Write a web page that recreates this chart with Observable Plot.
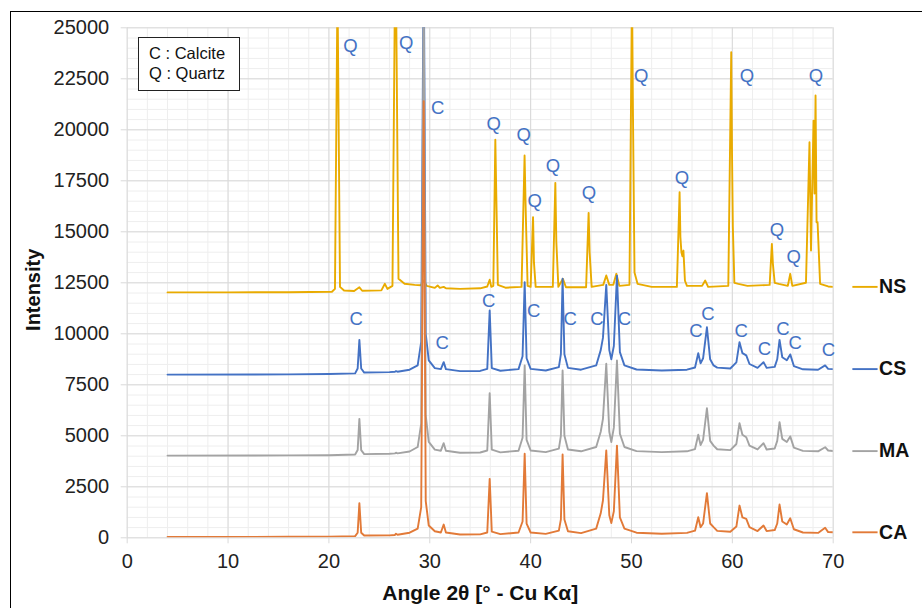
<!DOCTYPE html>
<html>
<head>
<meta charset="utf-8">
<script src="https://cdn.jsdelivr.net/npm/d3@7"></script>
<script src="https://cdn.jsdelivr.net/npm/@observablehq/plot@0.6"></script>
<style>
  html, body { margin: 0; padding: 0; background: #fff; overflow: hidden; }
  #wrap { position: relative; width: 922px; height: 608px; overflow: hidden; font-family: "Liberation Sans", Arial, sans-serif; }
  #frame { position: absolute; left: 10px; top: 11px; width: 1000px; height: 700px; border: 1px solid #000; box-sizing: border-box; pointer-events: none; }
  #key { position: absolute; left: 138px; top: 37px; width: 102px; height: 54px; box-sizing: border-box; border: 1px solid #222; background: #fff; padding: 5px 0 0 10px; font-size: 16.5px; line-height: 20px; color: #111; }
  svg { position: absolute; left: 0; top: 0; }
</style>
</head>
<body>
<div id="wrap"><div id="frame"></div></div>
<script>
// ---- data (angle 2θ in degrees, displayed intensity incl. stacking offset) ----
const seriesNames = ["NS", "CS", "MA", "CA"];
const keyLines = ["C : Calcite", "Q : Quartz"];
const angleTicks = [0, 10, 20, 30, 40, 50, 60, 70];
const intensityTicks = [0, 2500, 5000, 7500, 10000, 12500, 15000, 17500, 20000, 22500, 25000];

const NS = [[4,12030],[10,12030],[16,12040],[20.3,12060],[20.6,12200],[20.85,27000],[21.1,12300],[21.5,12120],[22.5,12100],[23.02,12280],[23.3,12110],[25.2,12130],[25.55,12450],[25.8,12200],[26.3,12350],[26.6,30000],[26.9,12700],[27.5,12450],[28.5,12400],[29.1,12380],[29.4,12610],[29.7,12350],[30.5,12250],[30.78,12370],[31.0,12250],[31.38,12300],[31.6,12230],[33,12200],[35,12230],[35.7,12320],[35.94,12650],[36.1,12300],[36.3,12350],[36.5,19510],[36.6,16700],[36.75,12400],[37.5,12260],[39.1,12300],[39.4,18740],[39.52,15880],[39.7,12350],[40.0,12300],[40.24,15720],[40.33,13500],[40.5,12300],[42.2,12300],[42.45,17400],[42.55,14500],[42.75,12300],[43.2,12700],[43.5,12280],[45.5,12280],[45.75,15930],[45.85,14000],[46.05,12300],[47.2,12400],[47.5,12860],[47.8,12400],[48.2,12400],[48.5,12940],[48.8,12350],[49.8,12400],[50.05,27000],[50.15,20620],[50.3,13000],[50.6,12450],[52,12300],[54.5,12300],[54.77,16940],[54.85,14740],[54.95,14000],[55.05,13800],[55.15,14080],[55.3,12600],[55.5,12350],[57.0,12350],[57.31,12610],[57.6,12300],[59.6,12350],[59.89,23800],[59.97,18740],[60.05,15230],[60.2,12500],[60.6,12450],[61.5,12350],[63.7,12400],[63.92,14410],[64.02,13430],[64.2,12500],[64.6,12450],[65.5,12350],[65.74,12940],[65.95,12350],[67.3,12500],[67.65,19390],[67.8,14080],[68.05,20450],[68.15,16880],[68.25,21680],[68.35,15470],[68.45,15470],[68.7,12450],[69.5,12320],[70,12300]];

const CS = [[4,8000],[16,8010],[20,8030],[22.6,8060],[22.85,8300],[23.02,9700],[23.2,8300],[23.5,8100],[26,8120],[26.55,8140],[26.65,8170],[26.8,8140],[28,8240],[28.8,8450],[29.15,9600],[29.4,29000],[29.6,10000],[29.9,8700],[30.5,8320],[31.1,8270],[31.38,8610],[31.6,8270],[33,8170],[35,8180],[35.7,8280],[35.94,11140],[36.15,8320],[37,8190],[38.8,8270],[39.2,8900],[39.41,12530],[39.6,8800],[40,8280],[41.5,8200],[42.8,8370],[43.0,9000],[43.17,12700],[43.35,9000],[43.7,8330],[45,8240],[46.5,8450],[46.95,9200],[47.17,9800],[47.5,12400],[47.8,9200],[48.0,8750],[48.25,9400],[48.56,12850],[48.85,9100],[49.3,8450],[50.5,8250],[53,8200],[55.5,8240],[56.3,8350],[56.62,9050],[56.85,8550],[57.1,8800],[57.48,10320],[57.8,8750],[58.14,8450],[58.5,8340],[59.8,8300],[60.4,8600],[60.71,9590],[61.0,9050],[61.38,8940],[61.7,8520],[62.5,8330],[63.09,8610],[63.4,8330],[64.2,8380],[64.45,8750],[64.68,9700],[64.95,8850],[65.4,8700],[65.74,8990],[66.1,8420],[67,8260],[68.5,8240],[69.2,8450],[69.5,8280],[70,8270]];

const MA = [[4,4030],[16,4040],[20,4050],[22.6,4080],[22.85,4300],[23.02,5830],[23.2,4300],[23.5,4100],[26,4120],[26.55,4140],[26.65,4170],[26.8,4140],[28,4230],[28.8,4450],[29.15,5600],[29.4,27000],[29.6,6000],[29.9,4700],[30.5,4320],[31.1,4270],[31.38,4640],[31.6,4270],[33,4170],[35,4180],[35.7,4280],[35.94,7090],[36.15,4320],[37,4190],[38.8,4270],[39.2,4900],[39.41,8450],[39.6,4800],[40,4280],[41.5,4200],[42.8,4370],[43.0,5000],[43.17,8200],[43.35,5000],[43.7,4330],[45,4240],[46.5,4450],[46.95,5200],[47.17,5830],[47.5,8530],[47.8,5200],[48.0,4690],[48.25,5400],[48.56,8690],[48.85,5100],[49.3,4450],[50.5,4250],[53,4200],[55.5,4240],[56.3,4350],[56.62,5050],[56.85,4550],[57.1,4800],[57.48,6350],[57.8,4750],[58.14,4520],[58.5,4340],[59.8,4300],[60.4,4600],[60.71,5620],[61.0,5050],[61.38,4930],[61.7,4520],[62.5,4330],[63.09,4640],[63.4,4330],[64.2,4380],[64.45,4750],[64.68,5670],[64.95,4850],[65.4,4700],[65.74,4970],[66.1,4420],[67,4260],[68.5,4240],[69.2,4440],[69.5,4280],[70,4250]];

const CA = [[4,40],[10,40],[16,50],[20,60],[22.6,80],[22.85,250],[23.02,1700],[23.2,250],[23.5,110],[26,120],[26.55,140],[26.65,200],[26.8,150],[28,250],[28.8,450],[29.15,1500],[29.4,21400],[29.6,1800],[29.9,600],[30.5,320],[31.1,260],[31.38,650],[31.6,260],[33,160],[35,170],[35.7,260],[35.94,2890],[36.15,300],[37,180],[38.8,260],[39.2,800],[39.41,4120],[39.6,700],[40,260],[41.5,190],[42.8,350],[43.0,900],[43.17,4080],[43.35,900],[43.7,320],[45,230],[46.5,450],[46.95,1200],[47.17,1830],[47.5,4280],[47.8,1100],[48.0,720],[48.25,1300],[48.56,4520],[48.85,1000],[49.3,450],[50.5,250],[53,200],[55.5,240],[56.3,350],[56.62,1010],[56.85,520],[57.1,700],[57.48,2190],[57.8,700],[58.14,520],[58.5,340],[59.8,300],[60.4,550],[60.71,1580],[61.0,1000],[61.38,930],[61.7,520],[62.5,330],[63.09,600],[63.4,330],[64.2,380],[64.45,700],[64.68,1630],[64.95,800],[65.4,650],[65.74,960],[66.1,420],[67,260],[68.5,240],[69.2,490],[69.5,280],[70,270]];

// phase annotations (Q = quartz, C = calcite)
const qAngle     = [22.13, 27.65, 36.33, 39.31, 40.40, 42.22, 45.79, 50.97, 55.00, 61.45, 64.42, 66.07, 68.29];
const qIntensity = [24080, 24250, 20290, 19720, 16490, 18220, 16890, 22610, 17650, 22610, 15100, 13750, 22610];
const cAngle     = [30.78, 22.70, 31.22, 35.84, 40.30, 43.93, 46.58, 49.29, 56.39, 57.58, 60.88, 63.19, 65.01, 66.23, 69.53];
const cIntensity = [21080, 10700, 9560, 11580, 11110, 10700, 10700, 10700, 10130, 10980, 10130, 9260, 10210, 9560, 9180];

// ---- build tables ----
const seriesData = {NS, CS, MA, CA};
const rows = seriesNames.flatMap(name => seriesData[name].map(([a, v]) => ({series: name, angle: a, intensity: v})));
const lastValue = name => seriesData[name][seriesData[name].length - 1][1];
const labels = [
  ...qAngle.map((a, i) => ({t: "Q", angle: a, intensity: qIntensity[i]})),
  ...cAngle.map((a, i) => ({t: "C", angle: a, intensity: cIntensity[i]}))
];

const font = "'Liberation Sans', Arial, sans-serif";
const chart = Plot.plot({
  width: 922,
  height: 608,
  marginLeft: 126.7,
  marginRight: 89.3,
  marginTop: 27.3,
  marginBottom: 70.7,
  style: {fontFamily: font, background: "transparent", overflow: "visible"},
  x: {domain: [0, 70]},
  y: {domain: [0, 25000]},
  color: {domain: seriesNames, range: ["#E9AB00", "#4472C4", "#A3A3A3", "#E27A38"]},
  marks: [
    Plot.gridX(d3.range(0, 71, 2), {stroke: "#eeeeee", strokeOpacity: 1}),
    Plot.gridY(d3.range(0, 25001, 500), {stroke: "#eeeeee", strokeOpacity: 1}),
    Plot.gridX(angleTicks, {stroke: "#d9d9d9", strokeOpacity: 1}),
    Plot.gridY(intensityTicks, {stroke: "#d9d9d9", strokeOpacity: 1}),
    Plot.axisX({ticks: angleTicks, tickSize: 6, tickPadding: 10, stroke: "#d9d9d9", fill: "#222", fontSize: 20, label: null}),
    Plot.axisY({ticks: intensityTicks, tickSize: 6, tickPadding: 12, stroke: "#d9d9d9", fill: "#222", fontSize: 20, label: null, tickFormat: d3.format("d")}),
    Plot.line(rows, {x: "angle", y: "intensity", z: "series", stroke: "series", strokeWidth: 1.9, clip: true}),
    Plot.text(labels, {x: "angle", y: "intensity", text: "t", fill: "#4472C4", fontSize: 18.5}),
    Plot.link(seriesNames, {x1: 71.9, x2: 74.4, y1: lastValue, y2: lastValue, stroke: d => d, strokeWidth: 1.9}),
    Plot.text(seriesNames, {x: 74.55, y: lastValue, text: d => d, textAnchor: "start", fontWeight: "bold", fontSize: 19.5, fill: "#111"}),
    Plot.text(["Intensity"], {frameAnchor: "left", text: d => d, rotate: -90, textAnchor: "middle", lineAnchor: "middle", dx: -94, dy: 7, fontWeight: "bold", fontSize: 20, fill: "#111"}),
    Plot.text(["Angle 2θ [° - Cu Kα]"], {frameAnchor: "bottom", text: d => d, textAnchor: "middle", lineAnchor: "middle", dy: 55, fontWeight: "bold", fontSize: 21, fill: "#111"})
  ]
});
const wrap = document.getElementById("wrap");
wrap.insertBefore(chart, wrap.firstChild);
const key = document.createElement("div");
key.id = "key";
key.innerHTML = keyLines.map(s => `<div>${s}</div>`).join("");
wrap.appendChild(key);
</script>
</body>
</html>
